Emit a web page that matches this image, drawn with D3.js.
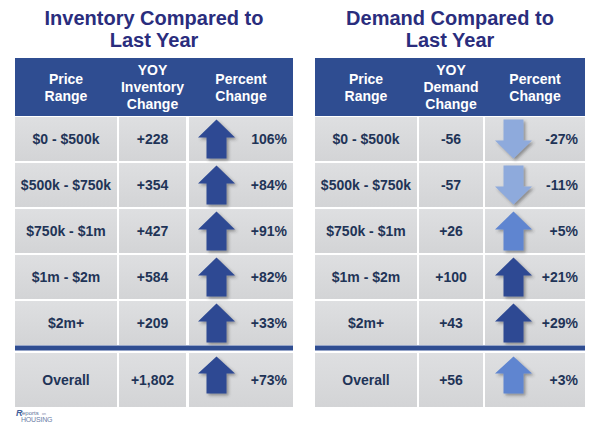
<!DOCTYPE html>
<html>
<head>
<meta charset="utf-8">
<script src="https://cdn.jsdelivr.net/npm/d3@7"></script>
<style>
  html, body { margin: 0; padding: 0; background: #ffffff; }
  svg { display: block; font-family: "Liberation Sans", Arial, sans-serif; }
</style>
</head>
<body>
<svg id="chart" width="600" height="430"></svg>
<script>
// ---- data ----
const categories = ["$0 - $500k", "$500k - $750k", "$750k - $1m", "$1m - $2m", "$2m+"];
const overallLabel = "Overall";

const inventoryChange = [228, 354, 427, 584, 209];
const inventoryOverall = 1802;
const inventoryPct = [106, 84, 91, 82, 33];
const inventoryPctLabels = ["106%", "+84%", "+91%", "+82%", "+33%"];
const inventoryPctOverall = 73;
const inventoryPctOverallLabel = "+73%";

const demandChange = [-56, -57, 26, 100, 43];
const demandOverall = 56;
const demandPct = [-27, -11, 5, 21, 29];
const demandPctLabels = ["-27%", "-11%", "+5%", "+21%", "+29%"];
const demandPctOverall = 3;
const demandPctOverallLabel = "+3%";

const leftTitle = ["Inventory Compared to", "Last Year"];
const rightTitle = ["Demand Compared to", "Last Year"];
const leftHeaders = [["Price", "Range"], ["YOY", "Inventory", "Change"], ["Percent", "Change"]];
const rightHeaders = [["Price", "Range"], ["YOY", "Demand", "Change"], ["Percent", "Change"]];

// ---- styles ----
const headerBlue = "#2f4d91";
const titleColor = "#2a2d7d";
const cellText = "#1f3457";
const arrowColor = d3.scaleThreshold().domain([0, 10]).range(["#8eaadc", "#5f85d0", "#2d4a93"]);
const fmt = d3.formatLocale({decimal: ".", thousands: ",", grouping: [3], currency: ["$", ""], minus: "-"}).format("+,");

const svg = d3.select("#chart");
const defs = svg.append("defs");
const grad = defs.append("linearGradient").attr("id", "cellGrad").attr("x1", 0).attr("y1", 0).attr("x2", 0).attr("y2", 1);
grad.append("stop").attr("offset", "0%").attr("stop-color", "#dedfe1");
grad.append("stop").attr("offset", "100%").attr("stop-color", "#d3d4d6");
const filt = defs.append("filter").attr("id", "shadow").attr("x", "-30%").attr("y", "-30%").attr("width", "170%").attr("height", "170%");
filt.append("feDropShadow").attr("dx", 2).attr("dy", 2).attr("stdDeviation", 1.4)
  .attr("flood-color", "#333").attr("flood-opacity", 0.45);

// row scale (shared by both tables)
const y = d3.scaleBand().domain(categories).range([117, 345]).paddingInner(0.0435);

function arrowPath(cx, cy, up, w, h) {
  const head = h * 0.46, sw = w * 0.54;
  const t = up ? -1 : 1;
  const tipY = cy + t * h / 2, baseY = cy - t * h / 2, headY = tipY - t * head;
  return `M${cx},${tipY} L${cx + w / 2},${headY} L${cx + sw / 2},${headY} L${cx + sw / 2},${baseY}
          L${cx - sw / 2},${baseY} L${cx - sw / 2},${headY} L${cx - w / 2},${headY} Z`;
}

function drawTable(opts) {
  const g = svg.append("g");
  const cols = opts.cols;              // [[x0,x1],...]
  const x0 = cols[0][0], x1 = cols[2][1];
  const cx = (x0 + x1) / 2;

  // title
  g.append("text").attr("x", cx).attr("y", 25).attr("text-anchor", "middle")
    .attr("font-size", 20).attr("font-weight", "bold").attr("fill", titleColor).text(opts.title[0]);
  g.append("text").attr("x", cx).attr("y", 47).attr("text-anchor", "middle")
    .attr("font-size", 20).attr("font-weight", "bold").attr("fill", titleColor).text(opts.title[1]);

  // header
  g.append("rect").attr("x", x0).attr("y", 58).attr("width", x1 - x0).attr("height", 58).attr("fill", headerBlue);
  opts.headers.forEach((lines, i) => {
    const mx = (cols[i][0] + cols[i][1]) / 2;
    const lh = 17;
    const first = 87 - (lines.length - 1) * lh / 2 + 5;
    lines.forEach((ln, j) => {
      g.append("text").attr("x", mx).attr("y", first + j * lh).attr("text-anchor", "middle")
        .attr("font-size", 14).attr("font-weight", "bold").attr("fill", "#ffffff").text(ln);
    });
  });

  // rows
  const rows = categories.map((c, i) => ({
    label: c, y0: y(c), h: y.bandwidth(), change: opts.change[i], pct: opts.pct[i], pctLabel: opts.pctLabels[i], arrowH: 39
  }));
  rows.push({label: overallLabel, y0: 353, h: 54, change: opts.overall, pct: opts.pctOverall, pctLabel: opts.pctOverallLabel, arrowH: 37, arrowDy: -5});

  rows.forEach(r => {
    cols.forEach(c => {
      g.append("rect").attr("x", c[0]).attr("y", r.y0).attr("width", c[1] - c[0]).attr("height", r.h).attr("fill", "url(#cellGrad)");
    });
    const my = r.y0 + r.h / 2;
    g.append("text").attr("x", (cols[0][0] + cols[0][1]) / 2).attr("y", my + 5).attr("text-anchor", "middle")
      .attr("font-size", 14).attr("font-weight", "bold").attr("fill", cellText).text(r.label);
    g.append("text").attr("x", (cols[1][0] + cols[1][1]) / 2).attr("y", my + 5).attr("text-anchor", "middle")
      .attr("font-size", 14).attr("font-weight", "bold").attr("fill", cellText).text(fmt(r.change));
    g.append("text").attr("x", cols[2][1] - opts.pctPad).attr("y", my + 5).attr("text-anchor", "end")
      .attr("font-size", 14).attr("font-weight", "bold").attr("fill", cellText).text(r.pctLabel);
    g.append("path").attr("d", arrowPath(cols[2][0] + opts.arrowOff, my + (r.arrowDy || 0), r.pct >= 0, 37, r.arrowH))
      .attr("fill", arrowColor(r.pct)).attr("filter", "url(#shadow)");
  });

  // separator line
  g.append("rect").attr("x", x0).attr("y", 345.5).attr("width", x1 - x0).attr("height", 5).attr("fill", headerBlue);
}

drawTable({
  cols: [[15, 117], [119, 186], [189, 293]],
  title: leftTitle, headers: leftHeaders,
  change: inventoryChange, overall: inventoryOverall,
  pct: inventoryPct, pctLabels: inventoryPctLabels,
  pctOverall: inventoryPctOverall, pctOverallLabel: inventoryPctOverallLabel,
  arrowOff: 27.5, pctPad: 6
});
drawTable({
  cols: [[315, 417], [419, 483], [485, 585]],
  title: rightTitle, headers: rightHeaders,
  change: demandChange, overall: demandOverall,
  pct: demandPct, pctLabels: demandPctLabels,
  pctOverall: demandPctOverall, pctOverallLabel: demandPctOverallLabel,
  arrowOff: 28.5, pctPad: 7
});

// logo
const logo = svg.append("g").attr("fill", "#3f5f9a");
logo.append("text").attr("x", 16).attr("y", 416).attr("font-size", 9).attr("font-style", "italic").attr("font-weight", "bold").text("R");
logo.append("text").attr("x", 22).attr("y", 415).attr("font-size", 6).attr("fill", "#5a6f99").text("eports");
logo.append("text").attr("x", 42).attr("y", 415).attr("font-size", 3.5).attr("fill", "#7a88a8").text("on");
logo.append("text").attr("x", 21).attr("y", 422).attr("font-size", 7).attr("fill", "#6b7ea6").attr("letter-spacing", -0.2).text("HOUSING");
</script>
</body>
</html>
